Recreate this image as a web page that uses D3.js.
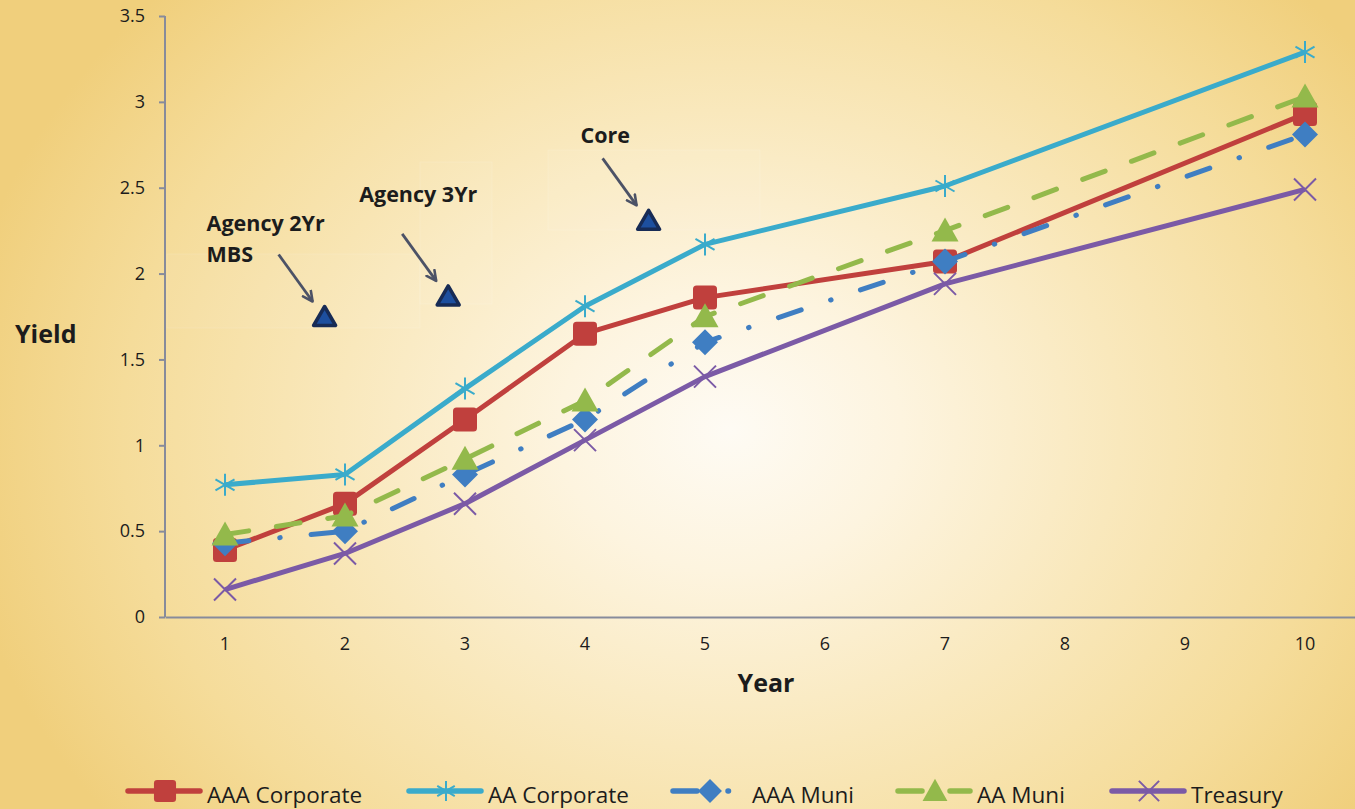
<!DOCTYPE html>
<html>
<head>
<meta charset="utf-8">
<script src="https://cdn.jsdelivr.net/npm/d3@7/dist/d3.min.js"></script>
<style>
  html, body { margin: 0; padding: 0; overflow: hidden; background: #f5e3a8; }
  svg { display: block; }
  text { font-family: "Open Sans", "Noto Sans", sans-serif; fill: #1c1c1c; }
</style>
</head>
<body>
<svg id="chart" width="1355" height="809"></svg>
<script>
// ---------------- DATA ----------------
const categories = ["1", "2", "3", "4", "5", "6", "7", "8", "9", "10"];
const years = ["1", "2", "3", "4", "5", "7", "10"];
const aaaCorporate = [0.39, 0.66, 1.15, 1.65, 1.86, 2.07, 2.93];
const aaCorporate  = [0.77, 0.83, 1.33, 1.81, 2.17, 2.51, 3.29];
const aaaMuni      = [0.43, 0.50, 0.83, 1.15, 1.60, 2.07, 2.81];
const aaMuni       = [0.48, 0.59, 0.92, 1.26, 1.75, 2.25, 3.03];
const treasury     = [0.16, 0.37, 0.66, 1.03, 1.40, 1.94, 2.49];
const seriesNames  = ["AAA Corporate", "AA Corporate", "AAA Muni", "AA Muni", "Treasury"];
const yTicks = [0, 0.5, 1, 1.5, 2, 2.5, 3, 3.5];
const annotationLabels = [["Agency 2Yr", "MBS"], ["Agency 3Yr"], ["Core"]];
const annotationYear  = [1.83, 2.86, 4.53];
const annotationYield = [1.75, 1.87, 2.31];

// ---------------- LAYOUT / STYLE ----------------
const W = 1355, H = 809;
const plot = { left: 165, right: 1365, top: 16, bottom: 617 };
const styles = [
  { color: "#c0403d", dash: null,            marker: "square" },
  { color: "#3aabcb", dash: null,            marker: "star" },
  { color: "#3f7ec2", dash: "24,31,0.5,31",  marker: "diamond" },
  { color: "#93b94b", dash: "24,28",         marker: "triangle" },
  { color: "#7b5aa6", dash: null,            marker: "x" }
];
const labelOffsets = [[-118, -86], [-89, -94], [-68, -77]];
const legendX = [128, 409, 673, 898, 1112];
const legendY = 791;
// faint pasted boxes (pixel layout): [x0, y0, x1, y1]
const boxRects = [[167, 254, 420, 328], [420, 162, 492, 304], [548, 150, 760, 230]];

const svg = d3.select("#chart");
const defs = svg.append("defs");

// background radial gradient
const grad = defs.append("radialGradient").attr("id", "bg")
  .attr("gradientUnits", "userSpaceOnUse")
  .attr("cx", 730).attr("cy", 430).attr("r", 780)
  .attr("gradientTransform", "translate(730,430) scale(1,0.82) translate(-730,-430)");
[[0, "#fefbf4"], [0.22, "#fdf4df"], [0.5, "#f9e8bc"], [0.78, "#f5dc9a"], [1, "#f0cf7c"]]
  .forEach(([o, c]) => grad.append("stop").attr("offset", o).attr("stop-color", c));
svg.append("rect").attr("width", W).attr("height", H).attr("fill", "url(#bg)");

// arrow marker
defs.append("marker").attr("id", "arrow")
  .attr("viewBox", "0 0 12 12").attr("refX", 10).attr("refY", 6)
  .attr("markerWidth", 13).attr("markerHeight", 13)
  .attr("markerUnits", "userSpaceOnUse").attr("orient", "auto")
  .append("path").attr("d", "M1,1.5 L10,6 L1,10.5")
  .attr("fill", "none").attr("stroke", "#4c5266").attr("stroke-width", 2.4)
  .attr("stroke-linecap", "round").attr("stroke-linejoin", "round");

// ---------------- SCALES ----------------
const x = d3.scaleBand().domain(categories).range([plot.left, plot.right]).padding(0);
const xc = d => x(d) + x.bandwidth() / 2;
const xNum = d3.scaleLinear().domain([1, 10]).range([xc("1"), xc("10")]);
const y = d3.scaleLinear().domain([0, 3.5]).range([plot.bottom, plot.top]);

// faint pasted boxes behind annotations
const boxes = svg.append("g");
boxRects.forEach(b => {
  boxes.append("rect")
    .attr("x", b[0]).attr("y", b[1]).attr("width", b[2] - b[0]).attr("height", b[3] - b[1])
    .attr("fill", "#ffffff").attr("fill-opacity", 0.05)
    .attr("stroke", "#ffffff").attr("stroke-opacity", 0.12).attr("stroke-width", 1);
});

// ---------------- AXES ----------------
const axisColor = "#878b9b";
const yAxis = svg.append("g").attr("transform", `translate(${plot.left},0)`)
  .call(d3.axisLeft(y).tickValues(yTicks).tickFormat(d => String(d)).tickSize(6).tickPadding(14));
yAxis.select(".domain").attr("d", `M0,${plot.top}V${plot.bottom}`).attr("stroke", axisColor).attr("stroke-width", 2);
yAxis.selectAll(".tick line").attr("stroke", axisColor).attr("stroke-width", 2);
yAxis.selectAll(".tick text").attr("font-size", 18).attr("fill", "#1c1c1c")
  .style("font-family", "'Open Sans', sans-serif");

const xAxis = svg.append("g").attr("transform", `translate(0,${plot.bottom})`)
  .call(d3.axisBottom(x).tickSize(0).tickPadding(20));
xAxis.select(".domain").attr("stroke", axisColor).attr("stroke-width", 2);
xAxis.selectAll(".tick text").attr("font-size", 18).attr("fill", "#1c1c1c")
  .style("font-family", "'Open Sans', sans-serif");

svg.append("text").attr("x", 15).attr("y", 343).attr("font-size", 25).attr("font-weight", 700).text("Yield");
svg.append("text").attr("x", 766).attr("y", 692).attr("text-anchor", "middle")
  .attr("font-size", 25).attr("font-weight", 700).text("Year");

// ---------------- MARKERS ----------------
function drawMarker(g, type, cx, cy, color, s) {
  s = s || 1;
  if (type === "square") {
    g.append("rect").attr("x", cx - 12 * s).attr("y", cy - 12 * s)
      .attr("width", 24 * s).attr("height", 24 * s).attr("rx", 3.5 * s)
      .attr("fill", color);
  } else if (type === "star") {
    const r = 11 * s;
    const a = Math.PI / 6;
    g.append("path")
      .attr("d", `M${cx},${cy - r}V${cy + r}` +
        `M${cx - r * Math.cos(a)},${cy - r * Math.sin(a)}L${cx + r * Math.cos(a)},${cy + r * Math.sin(a)}` +
        `M${cx - r * Math.cos(a)},${cy + r * Math.sin(a)}L${cx + r * Math.cos(a)},${cy - r * Math.sin(a)}`)
      .attr("stroke", color).attr("stroke-width", 2).attr("fill", "none");
  } else if (type === "diamond") {
    const r = 13 * s;
    g.append("path").attr("d", `M${cx},${cy - r}L${cx + r},${cy}L${cx},${cy + r}L${cx - r},${cy}Z`)
      .attr("fill", color);
  } else if (type === "triangle") {
    const w = 13.5 * s, h = 24 * s;
    g.append("path").attr("d", `M${cx},${cy - h * 0.55}L${cx + w},${cy + h * 0.45}L${cx - w},${cy + h * 0.45}Z`)
      .attr("fill", color);
  } else if (type === "x") {
    const r = 11 * s;
    g.append("path").attr("d", `M${cx - r},${cy - r}L${cx + r},${cy + r}M${cx - r},${cy + r}L${cx + r},${cy - r}`)
      .attr("stroke", color).attr("stroke-width", 2).attr("fill", "none");
  }
}

// ---------------- SERIES ----------------
const allSeries = [aaaCorporate, aaCorporate, aaaMuni, aaMuni, treasury];
const line = d3.line().x(d => xc(d.year)).y(d => y(d.value));
allSeries.forEach((vals, i) => {
  const st = styles[i];
  const data = years.map((yr, j) => ({ year: yr, value: vals[j] }));
  const g = svg.append("g").attr("class", "series");
  g.append("path").datum(data).attr("d", line)
    .attr("fill", "none").attr("stroke", st.color).attr("stroke-width", 5)
    .attr("stroke-linejoin", "round").attr("stroke-linecap", st.dash ? "round" : "butt")
    .attr("stroke-dasharray", st.dash);
  data.forEach(d => drawMarker(g, st.marker, xc(d.year), y(d.value), st.color, 1));
});

// ---------------- ANNOTATIONS ----------------
const ann = svg.append("g");
annotationLabels.forEach((lines, i) => {
  const cx = xNum(annotationYear[i]), cy = y(annotationYield[i]);
  ann.append("path")
    .attr("d", `M${cx},${cy - 10}L${cx + 11},${cy + 9}L${cx - 11},${cy + 9}Z`)
    .attr("fill", "#1d4f9e").attr("stroke", "#172b55").attr("stroke-width", 3.5)
    .attr("stroke-linejoin", "round");
  ann.append("line")
    .attr("x1", cx - 46).attr("y1", cy - 62).attr("x2", cx - 12).attr("y2", cy - 15)
    .attr("stroke", "#4c5266").attr("stroke-width", 2.8).attr("marker-end", "url(#arrow)");
  const t = ann.append("text").attr("font-size", 21.5).attr("font-weight", 700);
  lines.forEach((ln, k) => {
    t.append("tspan").attr("x", cx + labelOffsets[i][0]).attr("y", cy + labelOffsets[i][1] + k * 31).text(ln);
  });
});

// ---------------- LEGEND ----------------
const legend = svg.append("g");
seriesNames.forEach((name, i) => {
  const st = styles[i];
  const x0 = legendX[i];
  legend.append("line").attr("x1", x0).attr("x2", x0 + 72).attr("y1", legendY).attr("y2", legendY)
    .attr("stroke", st.color).attr("stroke-width", 5.5)
    .attr("stroke-linecap", "round").attr("stroke-dasharray", st.dash);
  drawMarker(legend, st.marker, x0 + 37, legendY, st.color, 0.92);
  legend.append("text").attr("x", x0 + 79).attr("y", legendY + 12)
    .attr("font-size", 22.5).text(name);
});
</script>
</body>
</html>
